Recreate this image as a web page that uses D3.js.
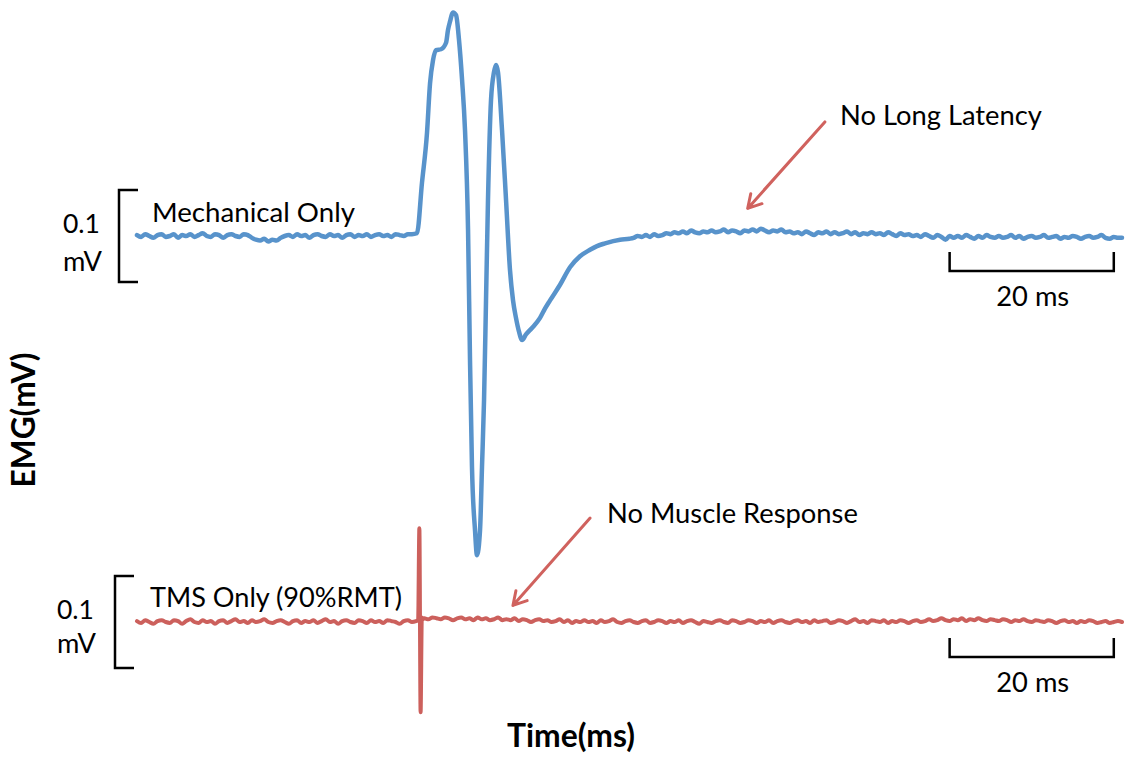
<!DOCTYPE html>
<html>
<head>
<meta charset="utf-8">
<script src="https://cdn.jsdelivr.net/npm/d3@7"></script>
<style>
  html, body { margin: 0; padding: 0; background: #fff; }
  svg { display: block; }
  text { font-family: Lato, "Open Sans", sans-serif; fill: #000; }
</style>
</head>
<body>
<svg id="chart" width="1133" height="759"></svg>
<script>
// ---------------- DATA ----------------
// Sampling step of the baseline segments (ms)
const sampleStep = 0.5;

// Mechanical only (blue) – baseline before the response, from t = 0 ms (mV)
const mechPre = [
  0.001,-0.001,0.002,0,-0.002,0.001,0.002,-0.001,0,0.002,
  -0.002,0.001,0,0.002,-0.001,0.001,0.003,0,-0.001,0.002,
  0.001,-0.002,0.001,0.002,0,-0.001,0.002,0.001,-0.002,-0.004,
  -0.005,-0.003,-0.006,-0.004,-0.005,-0.002,0,0.001,-0.001,0.002,
  0,0.001,-0.002,0.001,0.002,0,-0.001,0.002,0,0.001,
  -0.002,0.001,0.002,-0.001,0.001,0,0.002,-0.001,0.001,0.002,
  0,0.001,-0.001,0.002,0.001,0,0.002,0.002
];
// Mechanical response (ms, mV)
const mechRespTime = [
  34.11,34.72,35.33,35.70,36.06,36.43,37.04,37.65,37.89,38.13,
  38.50,38.87,39.23,39.60,39.96,40.33,40.57,40.81,41.18,41.42,
  41.79,42.03,42.28,42.52,42.76,43.13,43.49,43.74,43.98,44.47,
  44.96,45.44,45.81,46.17,46.54,46.91,47.39,48.12,49.10,49.70,
  50.32,51.54,52.75,53.97,55.19,56.04,57.02,58.85
];
const mechRespMV = [
  0.003,0.058,0.112,0.166,0.191,0.202,0.203,0.210,0.224,0.233,
  0.243,0.240,0.213,0.170,0.115,0.007,-0.135,-0.251,-0.320,-0.347,
  -0.320,-0.251,-0.178,-0.070,0.039,0.148,0.178,0.186,0.178,0.115,
  0.039,-0.037,-0.070,-0.089,-0.104,-0.113,-0.107,-0.100,-0.089,-0.079,
  -0.070,-0.053,-0.034,-0.022,-0.015,-0.011,-0.008,-0.004
];
// Mechanical only – baseline after the response, from t = 60 ms (mV)
const mechPostStart = 60;
const mechPost = [
  -0.003,-0.002,0,-0.001,0.001,-0.001,0.002,0,0.001,0.003,
  0.002,0.004,0.003,0.005,0.003,0.006,0.004,0.003,0.005,0.004,
  0.006,0.004,0.005,0.007,0.004,0.006,0.005,0.003,0.006,0.005,
  0.007,0.005,0.008,0.006,0.004,0.006,0.005,0.007,0.004,0.005,
  0.003,0.004,0.002,0.005,0.003,0.001,0.004,0.003,0.005,0.002,
  0.004,0.002,0.003,0.005,0.002,0.004,0.001,0.003,0.002,0.004,
  0.002,0.003,0.001,0.004,0.002,0,0.003,0.001,0.002,0,
  0.001,-0.001,0.002,0,-0.002,0.001,-0.001,-0.004,0,-0.002,
  0,-0.002,0.001,-0.001,-0.003,0,-0.002,0.001,-0.001,-0.002,
  0,-0.002,-0.001,0.001,-0.002,0,-0.003,-0.001,0,-0.002,
  -0.001,0.001,-0.002,-0.001,0,-0.003,-0.001,-0.002,0,-0.001,
  -0.003,-0.001,0,-0.002,-0.001,0.001,-0.002,-0.003,-0.001,-0.002,
  -0.002
];

// TMS only (red) – baseline before the pulse, from t = 0 ms (mV)
const tmsPre = [
  0.001,-0.001,0.002,0,-0.002,0.001,0.002,0,-0.001,0.002,
  0.001,-0.002,0.001,0.003,0,-0.001,0.002,0,0.001,-0.002,
  0.001,0.002,-0.001,0.001,0.003,0,0.001,-0.001,0.002,0,
  0.001,0.003,0,-0.001,0.001,0.002,0,-0.002,0.001,0.002,
  -0.001,0.001,0,0.002,-0.001,0.001,0.003,0,0.001,-0.002,
  0.001,0.002,0,-0.001,0.002,0.001,-0.001,0.002,0,0.001,
  -0.001,0.002,0.001,0,-0.002,0.001,0.002,0
];
// TMS artefact (ms, mV)
const tmsPulseTime = [34.0, 34.25, 34.4, 34.55, 34.7, 34.85];
const tmsPulseMV   = [0.001, 0.002, 0.102, -0.098, 0.005, 0.003];
// TMS only – baseline after the pulse, from t = 35 ms (mV)
const tmsPostStart = 35;
const tmsPost = [
  0.004,0.003,0.005,0.004,0.003,0.005,0.004,0.002,0.004,0.005,
  0.003,0.004,0.002,0.005,0.003,0.004,0.002,0.003,0.005,0.002,
  0.003,0.002,0.004,0.001,0.003,0.002,0,0.002,0.003,0.001,
  0.002,0,0.001,0.003,0,0.002,-0.001,0.001,0,0.002,
  0,0.001,-0.001,0.002,0,0.001,0.003,0,-0.001,0.001,
  0.002,0,-0.001,0.001,0.002,-0.001,0,0.002,0.001,-0.001,
  0.001,0,0.002,-0.001,0.001,0.002,0,-0.002,0.001,0,
  -0.001,0.001,0.002,0,-0.001,0.002,0.001,-0.001,0,0.002,
  0.001,-0.001,0.001,0,0.002,-0.001,0.001,0.002,0,-0.001,
  0.001,0.002,0,0.001,-0.001,0.002,0,0.001,0.002,-0.001,
  0,0.002,0.001,-0.001,0.001,0.003,0,0.001,-0.001,0.002,
  0.001,0,0.002,-0.001,0.001,0,0.002,0.001,-0.001,0.001,
  0.002,0,0.001,0.003,0.001,0.002,0.004,0.002,0.001,0.003,
  0.002,0.004,0.001,0.003,0.002,0.004,0.002,0.001,0.003,0.002,
  0.001,0.003,0.002,0,0.002,0.001,0.003,0.001,0,0.002,
  0.001,0,0.002,0.001,-0.001,0.001,0.002,0,0.001,-0.001,
  0.001,0,0.002,0.001,-0.001,0,0.001,-0.001,0,0.001,
  0
];

// Scale bars
const timeBar = [99, 119];       // ms (20 ms)
const ampBar = [-0.05, 0.05];    // mV (0.1 mV)
const timeDomain = [0, 120];

// Labels
const mechLabel = "Mechanical Only";
const tmsLabel = "TMS Only (90%RMT)";
const ampLabel = ["0.1", "mV"];
const timeBarLabel = "20 ms";
const yTitle = "EMG(mV)";
const xTitle = "Time(ms)";
// Annotations: [tail (ms, mV), tip (ms, mV)]
const mechNote = "No Long Latency";
const mechNoteArrow = [[83.8, 0.124], [74.4, 0.030]];
const tmsNote = "No Muscle Response";
const tmsNoteArrow = [[55.2, 0.113], [45.8, 0.018]];

// ---------------- BUILD SERIES ----------------
function series(pre, respT, respV, postStart, post) {
  const pts = [];
  pre.forEach((v, i) => pts.push([i * sampleStep, v]));
  respT.forEach((t, i) => pts.push([t, respV[i]]));
  post.forEach((v, i) => pts.push([postStart + i * sampleStep, v]));
  return pts;
}
const mechData = series(mechPre, mechRespTime, mechRespMV, mechPostStart, mechPost);
const tmsData = series(tmsPre, tmsPulseTime, tmsPulseMV, tmsPostStart, tmsPost);

// ---------------- DRAW ----------------
const svg = d3.select("#chart");
const blue = "#5893cb";
const red = "#cc605c";

const x = d3.scaleLinear().domain(timeDomain).range([137, 1122]);
const yMech = d3.scaleLinear().domain([0, 0.1]).range([236, 144]);
const yTms = d3.scaleLinear().domain([0, 0.1]).range([622, 530]);

function fitText(sel, targetWidth) {
  const node = sel.node();
  const fs = parseFloat(sel.attr("font-size"));
  const w = node.getComputedTextLength();
  if (w > 0) sel.attr("font-size", (fs * targetWidth / w).toFixed(2));
  return sel;
}

function panel(data, y, color, width, label, labelPos, ampPos, bracketX, barY, note, notePos, arrow) {
  const g = svg.append("g");
  // trace
  g.append("path")
    .datum(data)
    .attr("d", d3.line().curve(d3.curveMonotoneX).x(d => x(d[0])).y(d => y(d[1])))
    .attr("fill", "none")
    .attr("stroke", color)
    .attr("stroke-width", width)
    .attr("stroke-linejoin", "round")
    .attr("stroke-linecap", "round");

  // amplitude bracket
  const y0 = y(ampBar[1]), y1 = y(ampBar[0]);
  g.append("path")
    .attr("d", `M${bracketX + 19},${y0}H${bracketX}V${y1}H${bracketX + 19}`)
    .attr("fill", "none").attr("stroke", "#000").attr("stroke-width", 2.5);
  fitText(g.append("text").attr("x", ampPos[0]).attr("y", ampPos[1]).attr("font-size", 26).text(ampLabel[0]), 37);
  fitText(g.append("text").attr("x", ampPos[0]).attr("y", ampPos[1] + ampPos[2]).attr("font-size", 26).text(ampLabel[1]), 39);

  // time bar
  g.append("path")
    .attr("d", `M${x(timeBar[0])},${barY}V${barY + 19}H${x(timeBar[1])}V${barY}`)
    .attr("fill", "none").attr("stroke", "#000").attr("stroke-width", 2.5);
  fitText(g.append("text")
    .attr("x", (x(timeBar[0]) + x(timeBar[1])) / 2 + 1)
    .attr("y", barY + 54)
    .attr("text-anchor", "middle")
    .attr("font-size", 26).text(timeBarLabel), 73);

  // series label
  fitText(g.append("text").attr("x", labelPos[0]).attr("y", labelPos[1]).attr("font-size", 26).text(label), labelPos[2]);

  // annotation
  fitText(g.append("text").attr("x", notePos[0]).attr("y", notePos[1]).attr("font-size", 26).text(note), notePos[2]);
  const [tail, tip] = arrow;
  const tx = x(tail[0]), ty = y(tail[1]), px = x(tip[0]), py = y(tip[1]);
  const ang = Math.atan2(py - ty, px - tx);
  const hl = 15, ha = Math.PI / 6;
  g.append("path")
    .attr("d", `M${tx},${ty}L${px},${py}` +
      `M${px - hl * Math.cos(ang - ha)},${py - hl * Math.sin(ang - ha)}L${px},${py}` +
      `L${px - hl * Math.cos(ang + ha)},${py - hl * Math.sin(ang + ha)}`)
    .attr("fill", "none").attr("stroke", "#d0625e").attr("stroke-width", 3)
    .attr("stroke-linecap", "round").attr("stroke-linejoin", "round");
}

panel(mechData, yMech, blue, 4.5, mechLabel, [152, 222, 203], [63, 233, 38], 119, 252,
      mechNote, [840, 125, 202], mechNoteArrow);
panel(tmsData, yTms, red, 4, tmsLabel, [150, 607, 252], [57, 619, 34], 115, 638,
      tmsNote, [607, 523, 251], tmsNoteArrow);

// axis titles
fitText(svg.append("text")
  .attr("transform", "translate(35,420) rotate(-90)")
  .attr("text-anchor", "middle")
  .attr("font-weight", "bold")
  .attr("font-size", 28).text(yTitle), 135);
fitText(svg.append("text")
  .attr("x", 571).attr("y", 747)
  .attr("text-anchor", "middle")
  .attr("font-weight", "bold")
  .attr("font-size", 28).text(xTitle), 128);
</script>
</body>
</html>
